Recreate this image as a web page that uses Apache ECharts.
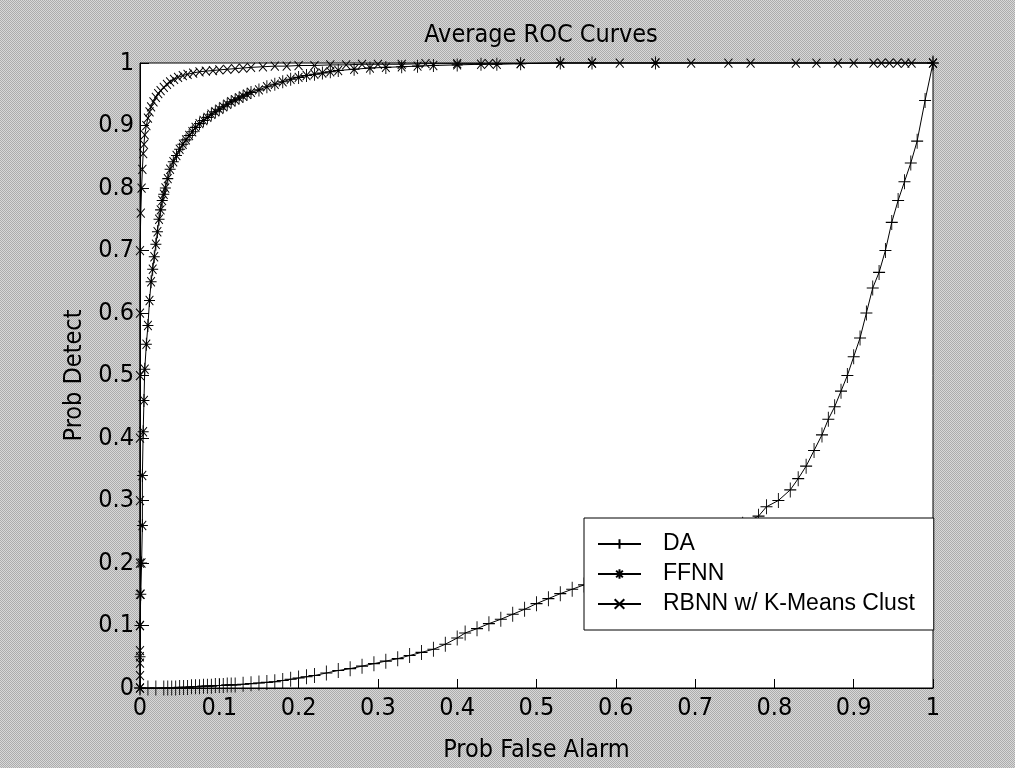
<!DOCTYPE html>
<html>
<head>
<meta charset="utf-8">
<title>Average ROC Curves</title>
<script src="https://cdn.jsdelivr.net/npm/echarts@6/dist/echarts.min.js"></script>
<style>
  html, body { margin: 0; padding: 0; }
  #chart { width: 1015px; height: 768px; }
</style>
</head>
<body>
<div id="chart"></div>
<script>
var xTicks = ['0', '0.1', '0.2', '0.3', '0.4', '0.5', '0.6', '0.7', '0.8', '0.9', '1']
var yTicks = ['0', '0.1', '0.2', '0.3', '0.4', '0.5', '0.6', '0.7', '0.8', '0.9', '1']
var seriesNames = ['DA', 'FFNN', 'RBNN w/ K-Means Clust']

// DA
var daX = [
  0, 0.01, 0.02, 0.03, 0.035, 0.04, 0.045, 0.05, 0.055, 0.06,
  0.065, 0.07, 0.075, 0.08, 0.085, 0.09, 0.095, 0.1, 0.105, 0.11,
  0.115, 0.12, 0.13, 0.14, 0.15, 0.16, 0.17, 0.18, 0.19, 0.2,
  0.21, 0.22, 0.235, 0.25, 0.265, 0.28, 0.295, 0.31, 0.325, 0.34,
  0.355, 0.37, 0.385, 0.4, 0.41, 0.425, 0.44, 0.455, 0.47, 0.485,
  0.5, 0.515, 0.53, 0.545, 0.56, 0.575, 0.59, 0.605, 0.62, 0.64,
  0.66, 0.68, 0.7, 0.72, 0.74, 0.76, 0.78, 0.79, 0.805, 0.82,
  0.83, 0.84, 0.85, 0.86, 0.868, 0.876, 0.884, 0.892, 0.9, 0.908,
  0.916, 0.924, 0.932, 0.94, 0.948, 0.956, 0.964, 0.972, 0.98, 0.99,
  1
]
var daY = [
  0, 0, 0, 0, 0, 0, 0, 0.001, 0.001, 0.001,
  0.002, 0.002, 0.002, 0.003, 0.003, 0.003, 0.004, 0.004, 0.004, 0.005,
  0.005, 0.005, 0.006, 0.007, 0.008, 0.009, 0.01, 0.012, 0.014, 0.016,
  0.018, 0.02, 0.024, 0.028, 0.031, 0.035, 0.039, 0.043, 0.047, 0.052,
  0.057, 0.062, 0.07, 0.08, 0.088, 0.095, 0.103, 0.11, 0.118, 0.126,
  0.135, 0.143, 0.151, 0.158, 0.165, 0.172, 0.178, 0.185, 0.192, 0.2,
  0.21, 0.22, 0.23, 0.24, 0.25, 0.262, 0.275, 0.29, 0.3, 0.317,
  0.335, 0.355, 0.38, 0.405, 0.43, 0.45, 0.475, 0.5, 0.53, 0.56,
  0.6, 0.64, 0.665, 0.7, 0.745, 0.78, 0.81, 0.84, 0.875, 0.94,
  1
]

// FFNN
var ffnnX = [
  0, 0, 0, 0.001, 0.002, 0.003, 0.003, 0.004, 0.005, 0.006,
  0.008, 0.01, 0.012, 0.014, 0.016, 0.018, 0.02, 0.022, 0.024, 0.026,
  0.028, 0.03, 0.032, 0.035, 0.038, 0.042, 0.046, 0.05, 0.054, 0.058,
  0.062, 0.066, 0.07, 0.075, 0.08, 0.085, 0.09, 0.095, 0.1, 0.105,
  0.11, 0.115, 0.12, 0.125, 0.13, 0.135, 0.14, 0.15, 0.16, 0.17,
  0.18, 0.19, 0.2, 0.21, 0.22, 0.23, 0.24, 0.25, 0.27, 0.29,
  0.31, 0.33, 0.35, 0.37, 0.4, 0.43, 0.45, 0.48, 0.53, 0.57,
  0.65, 1
]
var ffnnY = [
  0, 0.05, 0.1, 0.15, 0.2, 0.26, 0.34, 0.41, 0.46, 0.51,
  0.55, 0.58, 0.62, 0.65, 0.67, 0.69, 0.71, 0.73, 0.75, 0.765,
  0.78, 0.79, 0.8, 0.815, 0.83, 0.842, 0.852, 0.862, 0.87, 0.877,
  0.884, 0.89, 0.897, 0.903, 0.908, 0.913, 0.918, 0.922, 0.926, 0.93,
  0.934, 0.938, 0.941, 0.944, 0.947, 0.95, 0.953, 0.957, 0.962, 0.966,
  0.97, 0.974, 0.977, 0.98, 0.982, 0.984, 0.986, 0.988, 0.99, 0.992,
  0.993, 0.994, 0.995, 0.996, 0.997, 0.998, 0.998, 0.999, 1, 1,
  1, 1
]

// RBNN w/ K-Means Clust
var rbnnX = [
  0, 0, 0, 0, 0, 0, 0, 0, 0, 0,
  0, 0, 0.001, 0.002, 0.003, 0.004, 0.005, 0.006, 0.008, 0.01,
  0.012, 0.014, 0.017, 0.02, 0.023, 0.026, 0.03, 0.034, 0.038, 0.043,
  0.048, 0.054, 0.06, 0.067, 0.075, 0.083, 0.092, 0.1, 0.11, 0.12,
  0.13, 0.14, 0.155, 0.17, 0.185, 0.2, 0.22, 0.24, 0.26, 0.28,
  0.3, 0.33, 0.36, 0.4, 0.44, 0.48, 0.53, 0.57, 0.605, 0.65,
  0.695, 0.742, 0.77, 0.827, 0.853, 0.88, 0.9, 0.925, 0.935, 0.945,
  0.955, 0.965, 0.973, 1
]
var rbnnY = [
  0, 0.02, 0.04, 0.06, 0.1, 0.15, 0.2, 0.3, 0.4, 0.5,
  0.6, 0.7, 0.76, 0.8, 0.83, 0.855, 0.87, 0.885, 0.9, 0.912,
  0.922, 0.93, 0.938, 0.945, 0.951, 0.956, 0.961, 0.966, 0.97, 0.974,
  0.977, 0.98, 0.982, 0.984, 0.986, 0.987, 0.988, 0.989, 0.99, 0.991,
  0.992, 0.993, 0.994, 0.995, 0.995, 0.996, 0.996, 0.997, 0.997, 0.998,
  0.998, 0.998, 0.999, 0.999, 0.999, 0.999, 1, 1, 1, 1,
  1, 1, 1, 1, 1, 1, 1, 1, 1, 1,
  1, 1, 1, 1
]

var plusPath = 'path://M0,5L10,5M5,0L5,10'
var starPath = 'path://M0,5L10,5M5,0L5,10M1.5,1.5L8.5,8.5M8.5,1.5L1.5,8.5'
var crossPath = 'path://M0,0L10,10M10,0L0,10'

function zip(xs, ys) {
  var out = []
  for (var i = 0; i < xs.length; i++) {
    out.push([xs[i], ys[i]])
  }
  return out
}

// dithered grey figure background, like the old matlab window
function ditherPattern() {
  var c = document.createElement('canvas')
  c.width = 2
  c.height = 2
  var ctx = c.getContext('2d')
  ctx.fillStyle = '#d8d8d8'
  ctx.fillRect(0, 0, 2, 2)
  ctx.fillStyle = '#acacac'
  ctx.fillRect(0, 0, 1, 1)
  ctx.fillRect(1, 1, 1, 1)
  return c
}

var font = 'Liberation Sans Narrow, DejaVu Sans Condensed, Liberation Sans, Arial, sans-serif'

function makeSeries(name, xs, ys, symbol, size) {
  return {
    name: name,
    type: 'line',
    data: zip(xs, ys),
    symbol: symbol,
    symbolSize: size,
    showAllSymbol: true,
    lineStyle: { color: '#000', width: 1 },
    itemStyle: { color: '#000', borderColor: '#000', borderWidth: 1 },
    emphasis: { disabled: true },
    clip: false
  }
}

var myChart = echarts.init(document.getElementById('chart'))

var option = {
  animation: false,
  backgroundColor: { image: ditherPattern(), repeat: 'repeat' },
  title: {
    text: 'Average ROC Curves',
    left: 536,
    textAlign: 'center',
    top: 18,
    textStyle: { fontFamily: font, fontSize: 25, fontWeight: 'normal', color: '#000' }
  },
  legend: {
    data: seriesNames,
    orient: 'vertical',
    left: 584,
    top: 518,
    padding: [13, 19, 13, 13],
    itemGap: 4,
    itemWidth: 43,
    itemHeight: 12,
    backgroundColor: '#fff',
    borderColor: '#000',
    borderWidth: 1,
    borderRadius: 0,
    textStyle: {
      fontFamily: 'Liberation Sans, Arial, sans-serif',
      fontSize: 23,
      lineHeight: 26,
      color: '#000',
      padding: [0, 0, 0, 17]
    }
  },
  grid: {
    left: 140,
    top: 63,
    width: 793,
    height: 625,
    show: true,
    backgroundColor: '#fff',
    borderColor: '#000',
    borderWidth: 1
  },
  xAxis: {
    type: 'value',
    min: 0,
    max: 1,
    interval: 0.1,
    name: 'Prob False Alarm',
    nameLocation: 'middle',
    nameGap: 50,
    nameTextStyle: { fontFamily: font, fontSize: 25, color: '#000' },
    axisLine: { lineStyle: { color: '#000', width: 1 } },
    axisTick: { inside: true, length: 9, lineStyle: { color: '#000' } },
    axisLabel: {
      margin: 8,
      fontFamily: font,
      fontSize: 25,
      color: '#000',
      formatter: function (v) { return xTicks[Math.round(v * 10)] }
    },
    splitLine: { show: false }
  },
  yAxis: {
    type: 'value',
    min: 0,
    max: 1,
    interval: 0.1,
    name: 'Prob Detect',
    nameLocation: 'middle',
    nameGap: 52,
    nameTextStyle: { fontFamily: font, fontSize: 25, color: '#000' },
    axisLine: { lineStyle: { color: '#000', width: 1 } },
    axisTick: { inside: true, length: 9, lineStyle: { color: '#000' } },
    axisLabel: {
      margin: 6,
      fontFamily: font,
      fontSize: 25,
      color: '#000',
      formatter: function (v) { return yTicks[Math.round(v * 10)] }
    },
    splitLine: { show: false }
  },
  series: [
    makeSeries(seriesNames[0], daX, daY, plusPath, [12, 15]),
    makeSeries(seriesNames[1], ffnnX, ffnnY, starPath, [11, 13]),
    makeSeries(seriesNames[2], rbnnX, rbnnY, crossPath, [8, 9])
  ]
}

myChart.setOption(option)
</script>
</body>
</html>
